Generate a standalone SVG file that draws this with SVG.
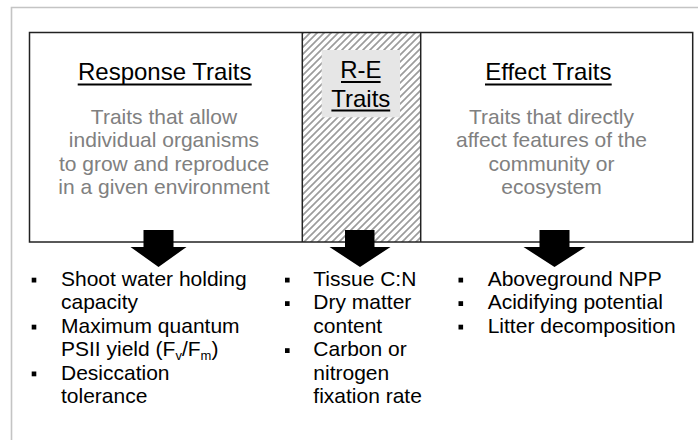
<svg xmlns="http://www.w3.org/2000/svg" width="698" height="440" viewBox="0 0 698 440">
  <defs>
    <pattern id="hatch" patternUnits="userSpaceOnUse" width="7" height="7">
      <path d="M-1,1 l2,-2 M0,7 l7,-7 M6,8 l2,-2" stroke="#9c9c9c" stroke-width="1.7"/>
    </pattern>
    <style>
      text { font-family: "Liberation Sans", Arial, sans-serif; }
      .title { font-size: 24px; fill: #000; text-anchor: middle; }
      .desc { font-size: 21px; fill: #808080; text-anchor: middle; }
      .item { font-size: 21px; fill: #000; }
      .uline { stroke: #000; stroke-width: 2; }
      .bullet { fill: #000; }
      .arrow { fill: #000; }
    </style>
  </defs>

  <rect width="698" height="440" fill="#fff"/>
  <!-- outer frame -->
  <path d="M11.5,440 V7.5 H698" fill="none" stroke="#c4c4c4" stroke-width="1.6"/>

  <!-- middle column background -->
  <rect x="302.3" y="32.5" width="118.4" height="209.5" fill="url(#hatch)"/>

  <!-- main box with dividers -->
  <rect x="29.5" y="32.5" width="663.2" height="209.5" fill="none" stroke="#222" stroke-width="1.5"/>
  <line x1="302.3" y1="32.5" x2="302.3" y2="242" stroke="#222" stroke-width="1.5"/>
  <line x1="420.7" y1="32.5" x2="420.7" y2="242" stroke="#222" stroke-width="1.5"/>

  <g id="response-traits">
    <text class="title" x="164.7" y="80">Response Traits</text>
    <line class="uline" x1="77.7" y1="84.5" x2="251.7" y2="84.5"/>
    <text class="desc" x="164" y="124">Traits that allow</text>
    <text class="desc" x="164" y="147.4">individual organisms</text>
    <text class="desc" x="164" y="170.8">to grow and reproduce</text>
    <text class="desc" x="164" y="194.2">in a given environment</text>
  </g>

  <g id="re-traits">
    <rect x="321.7" y="50" width="78.3" height="67.3" fill="#e6e6e6"/>
    <text class="title" x="360.8" y="78.3">R-E</text>
    <line class="uline" x1="341" y1="82" x2="380.6" y2="82"/>
    <text class="title" x="360.8" y="106.5">Traits</text>
    <line class="uline" x1="331.4" y1="110.5" x2="390.2" y2="110.5"/>
  </g>

  <g id="effect-traits">
    <text class="title" x="548.3" y="80">Effect Traits</text>
    <line class="uline" x1="485" y1="84.5" x2="611.7" y2="84.5"/>
    <text class="desc" x="551.5" y="124">Traits that directly</text>
    <text class="desc" x="551.5" y="147.4">affect features of the</text>
    <text class="desc" x="551.5" y="170.8">community or</text>
    <text class="desc" x="551.5" y="194.2">ecosystem</text>
  </g>

  <g id="connectors">
    <polygon class="arrow" points="143.5,230 173.5,230 173.5,247 186.5,247 158.5,267 130.5,247 143.5,247"/>
    <polygon class="arrow" points="345,230 374.5,230 374.5,247 390.5,247 360,267 329.5,247 345,247"/>
    <polygon class="arrow" points="539.5,230 569.5,230 569.5,247 585.5,247 554.5,267 523.5,247 539.5,247"/>
  </g>

  <g id="response-list">
    <rect class="bullet" x="31.7" y="277.7" width="4.6" height="4.8"/>
    <rect class="bullet" x="31.7" y="324.7" width="4.6" height="4.8"/>
    <rect class="bullet" x="31.7" y="371.5" width="4.6" height="4.8"/>
    <text class="item" x="61" y="285.5">Shoot water holding</text>
    <text class="item" x="61" y="309">capacity</text>
    <text class="item" x="61" y="332.5">Maximum quantum</text>
    <text class="item" x="61" y="356">PSII yield (F<tspan font-size="13" dy="4">v</tspan><tspan dy="-4">/F</tspan><tspan font-size="13" dy="4">m</tspan><tspan dy="-4">)</tspan></text>
    <text class="item" x="61" y="379.5">Desiccation</text>
    <text class="item" x="61" y="403">tolerance</text>
  </g>

  <g id="re-list">
    <rect class="bullet" x="285" y="277.7" width="4.6" height="4.8"/>
    <rect class="bullet" x="285" y="301.2" width="4.6" height="4.8"/>
    <rect class="bullet" x="285" y="348.2" width="4.6" height="4.8"/>
    <text class="item" x="313.3" y="285.5">Tissue C:N</text>
    <text class="item" x="313.3" y="309">Dry matter</text>
    <text class="item" x="313.3" y="332.5">content</text>
    <text class="item" x="313.3" y="356">Carbon or</text>
    <text class="item" x="313.3" y="379.5">nitrogen</text>
    <text class="item" x="313.3" y="403">fixation rate</text>
  </g>

  <g id="effect-list">
    <rect class="bullet" x="458.5" y="277.7" width="4.6" height="4.8"/>
    <rect class="bullet" x="458.5" y="301.2" width="4.6" height="4.8"/>
    <rect class="bullet" x="458.5" y="324.7" width="4.6" height="4.8"/>
    <text class="item" x="487.7" y="285.5">Aboveground NPP</text>
    <text class="item" x="487.7" y="309">Acidifying potential</text>
    <text class="item" x="487.7" y="332.5">Litter decomposition</text>
  </g>
</svg>
